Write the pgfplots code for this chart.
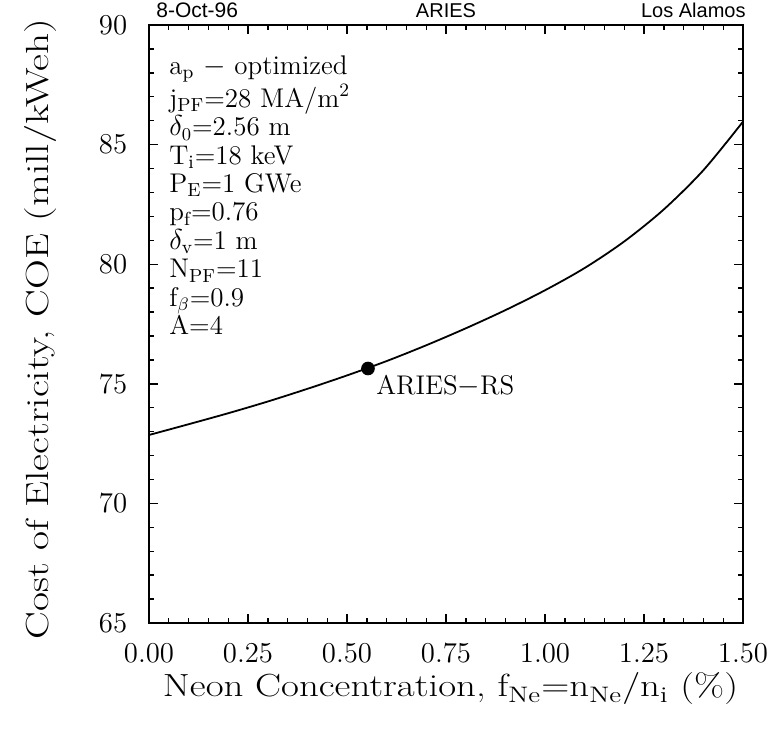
\documentclass[border=0pt]{standalone}
\usepackage{graphicx}
\usepackage{pgfplots}
\pgfplotsset{compat=1.18}
\usepackage{fontspec}
\newfontfamily\hv{Liberation Sans}
\begin{document}
\begin{tikzpicture}
\begin{axis}[
  scale only axis,
  width=297pt, height=299pt,
  xmin=0, xmax=1.5, ymin=65, ymax=90,
  xtick={0,0.25,0.5,0.75,1,1.25,1.5},
  ytick={65,70,75,80,85,90},
  minor x tick num=4, minor y tick num=4,
  tick align=inside,
  major tick length=4.5pt, minor tick length=2.5pt,
  axis line style={line width=0.9pt},
  every tick/.style={black, line width=0.7pt},
  ticklabel style={font=\fontsize{14}{16}\selectfont},
  xticklabel style={yshift=-7pt,/pgf/number format/.cd,fixed,fixed zerofill,precision=2},
  yticklabel style={xshift=-7.4pt},
  xlabel={\resizebox{287.5pt}{\height}{Neon Concentration, f\textsubscript{Ne}=n\textsubscript{Ne}/n\textsubscript{i} (\%)}},
  ylabel={\resizebox{310pt}{\height}{Cost of Electricity, COE (mill/kWeh)}},
  label style={font=\fontsize{16}{18}\selectfont},
  xlabel style={at={(axis description cs:0.5076,-0.1237)}, anchor=base},
  ylabel style={at={(axis description cs:-0.170,0.4916)}, anchor=base},
  clip=false,
]
\addplot[black, line width=0.9pt, smooth] coordinates {
(0.0,72.86) (0.1,73.31) (0.2,73.77) (0.3,74.26) (0.4,74.79) (0.5,75.35)
(0.6,75.95) (0.7,76.61) (0.8,77.32) (0.9,78.08) (1.0,78.91) (1.1,79.84)
(1.2,80.95) (1.3,82.29) (1.4,83.93) (1.5,85.96)};
\addplot[only marks, mark=*, mark size=3.2pt, black] coordinates {(0.553,75.64)};
\node[anchor=base west, inner sep=0pt, font=\fontsize{13.5}{15}\selectfont] at (axis cs:0.573,74.57) {ARIES$-$RS};
\node[anchor=north west, inner sep=0pt, align=left, font=\fontsize{13.5}{14.2}\selectfont] at (axis cs:0.0505,88.74) {%
a\textsubscript{p} $-$ optimized\\
j\textsubscript{PF}=28 MA/m\textsuperscript{2}\\
$\delta_0$=2.56 m\\
T\textsubscript{i}=18 keV\\
P\textsubscript{E}=1 GWe\\
p\textsubscript{f}=0.76\\
$\delta_{\mathrm{v}}$=1 m\\
N\textsubscript{PF}=11\\
f\textsubscript{$\beta$}=0.9\\
A=4};
\node[anchor=base west, inner sep=0pt, font=\hv\fontsize{10.5}{12}\selectfont, xshift=3.5pt, yshift=3.5pt] at (rel axis cs:0,1) {8-Oct-96};
\node[anchor=base, inner sep=0pt, font=\hv\fontsize{10}{12}\selectfont, yshift=3.5pt] at (rel axis cs:0.5,1) {ARIES};
\node[anchor=base east, inner sep=0pt, font=\hv\fontsize{10}{12}\selectfont, xshift=1.5pt, yshift=3.5pt] at (rel axis cs:1,1) {Los Alamos};
\end{axis}
\pgfresetboundingbox
\path (-74.5pt,-53pt) rectangle (310.5pt,311.5pt);
\end{tikzpicture}
\end{document}
